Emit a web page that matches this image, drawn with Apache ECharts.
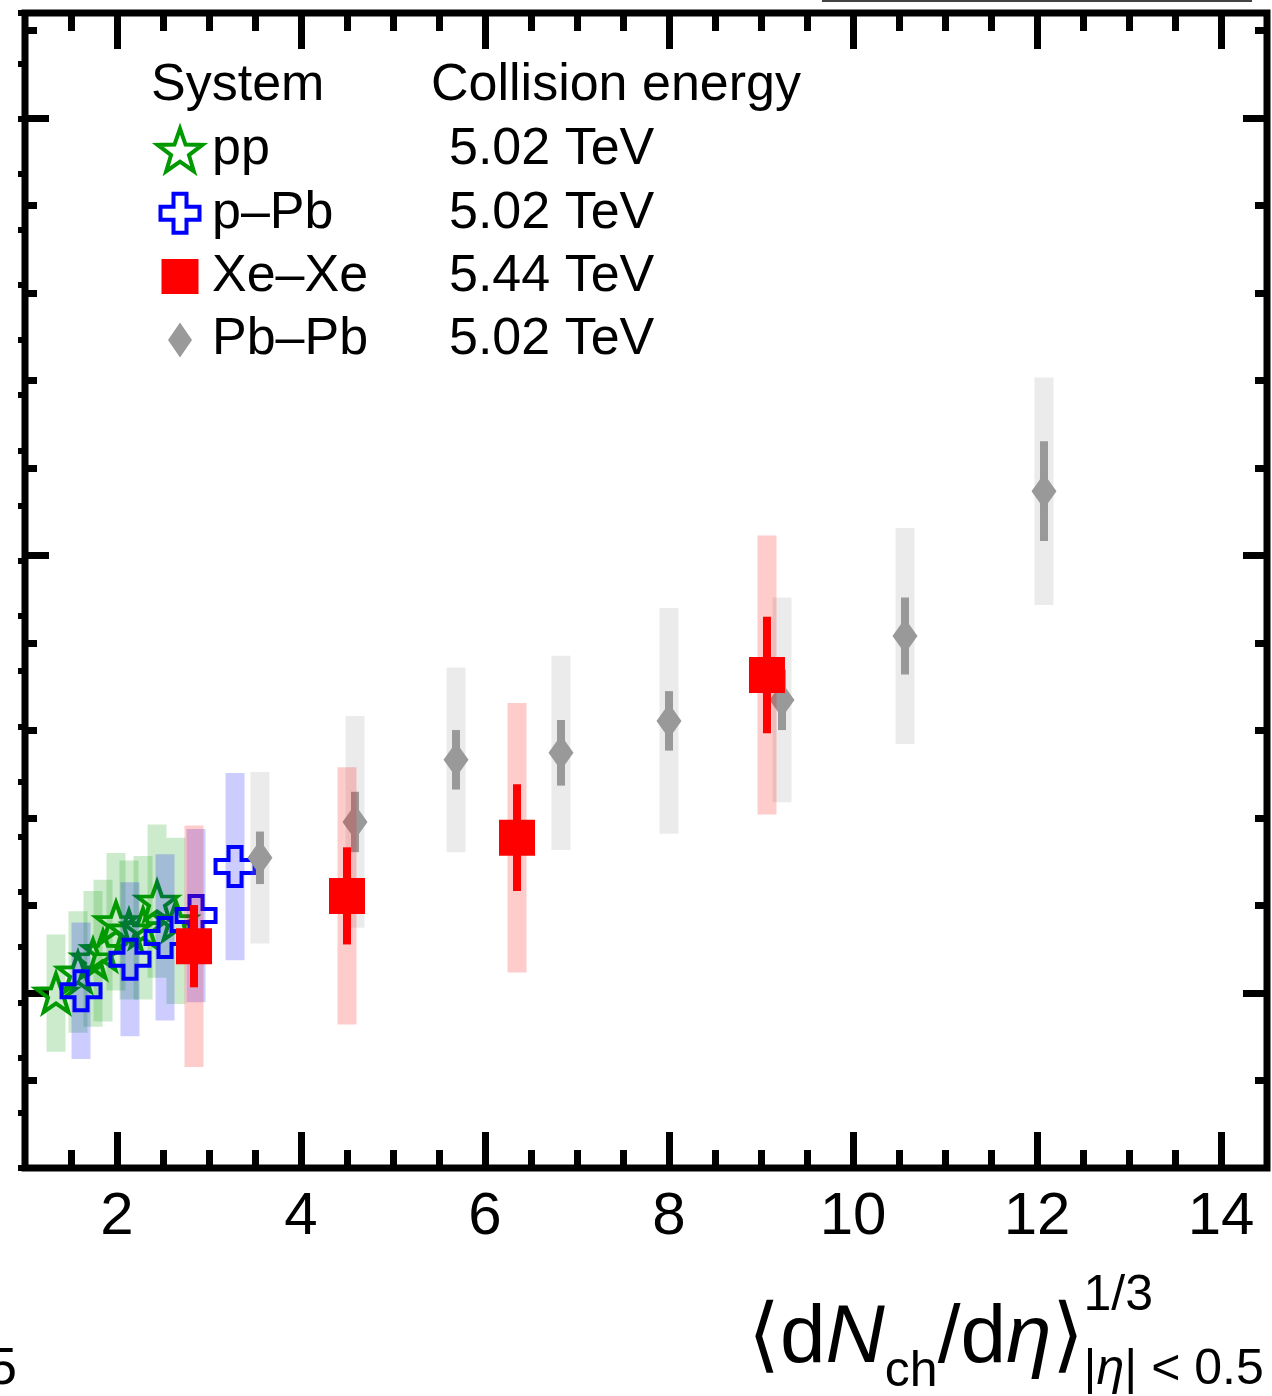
<!DOCTYPE html>
<html><head><meta charset="utf-8">
<script src="https://cdn.jsdelivr.net/npm/echarts@6/dist/echarts.min.js"></script>
<style>html,body{margin:0;padding:0;background:#fff}#c{width:1272px;height:1396px}</style>
</head><body><div id="c"></div>
<script>
// ---------------- data ----------------
const xMin = 1, xMax = 14.5;
const yMin = 0.6, yMax = 3.24;
const xMajorTicks = [2, 4, 6, 8, 10, 12, 14];
const xMinorTicks = [1.5, 2.5, 3, 3.5, 4.5, 5, 5.5, 6.5, 7, 7.5, 8.5, 9, 9.5, 10.5, 11, 11.5, 12.5, 13, 13.5];
const xTickLabels = [2, 4, 6, 8, 10, 12, 14];
const yMajorTicks = [1, 2, 3];
const yMinorTicks = [0.8, 1.2, 1.4, 1.6, 1.8, 2.2, 2.4, 2.6, 2.8, 3.2];

const ppX   = [1.337, 1.576, 1.739, 1.848, 1.989, 2.130, 2.283, 2.435, 2.641];
const ppY   = [1.000, 1.048, 1.078, 1.097, 1.163, 1.144, 1.149, 1.210, 1.165];
const ppSys = [0.134, 0.139, 0.155, 0.162, 0.157, 0.159, 0.164, 0.175, 0.190];

const pPbX   = [1.609, 2.141, 2.522, 2.859, 3.283];
const pPbY   = [1.005, 1.077, 1.127, 1.177, 1.289];
const pPbSys = [0.156, 0.176, 0.190, 0.198, 0.214];

const xeX    = [2.837, 4.500, 6.348, 9.065];
const xeY    = [1.107, 1.222, 1.355, 1.727];
const xeStat = [0.094, 0.111, 0.122, 0.133];
const xeSys  = [0.276, 0.294, 0.308, 0.319];

const pbX    = [3.554, 4.587, 5.685, 6.826, 8.000, 9.228, 10.565, 12.076];
const pbY    = [1.309, 1.391, 1.533, 1.549, 1.622, 1.670, 1.816, 2.147];
const pbStat = [0.060, 0.069, 0.068, 0.075, 0.068, 0.069, 0.088, 0.114];
const pbSys  = [0.196, 0.242, 0.211, 0.222, 0.258, 0.234, 0.247, 0.260];

const legendNames    = ['pp', 'p\u2013Pb', 'Xe\u2013Xe', 'Pb\u2013Pb'];
const legendEnergies = ['5.02 TeV', '5.02 TeV', '5.44 TeV', '5.02 TeV'];
const legendHeader   = ['System', 'Collision energy'];

// ---------------- styles ----------------
const FONT = '"Liberation Sans", Arial, Helvetica, sans-serif';
const GREEN = '#009900', BLUE = '#0000ff', RED = '#ff0000', GRAY = '#999999';

function starPts(cx, cy, R, r) {
  const pts = [];
  for (let k = 0; k < 10; k++) {
    const a = (-90 + k * 36) * Math.PI / 180;
    const rad = k % 2 === 0 ? R : r;
    pts.push([cx + rad * Math.cos(a), cy + rad * Math.sin(a)]);
  }
  return pts;
}
function polyPath(pts) {
  return 'M' + pts.map(p => p[0].toFixed(2) + ' ' + p[1].toFixed(2)).join(' L') + ' Z';
}
const starSymbol = 'path://' + polyPath(starPts(50, 50, 50, 20));
const crossSymbol = 'path://M33.33 0 H66.67 V33.33 H100 V66.67 H66.67 V100 H33.33 V66.67 H0 V33.33 H33.33 Z';
const diamondSymbol = 'path://M12 0 L24 17.5 L12 35 L0 17.5 Z';
const PAD = ' M0 0 M46 46';
const starLegend = 'path://' + polyPath(starPts(23, 25.2, 23.5, 9.4)) + PAD;
const crossLegend = 'path://M16.5 3.5 H29.5 V16.5 H42.5 V29.5 H29.5 V42.5 H16.5 V29.5 H3.5 V16.5 H16.5 Z' + PAD;
const squareLegend = 'path://M4.5 5.5 H41.5 V40.5 H4.5 Z' + PAD;
const diamondLegend = 'path://M23 5.5 L35 23 L23 40.5 L11 23 Z' + PAD;

function xAx(pos, ticks, len, labels) {
  return {
    type: 'value', position: pos, min: xMin, max: xMax, gridIndex: 0,
    axisLine: {show: false}, splitLine: {show: false},
    axisTick: {show: true, inside: true, length: len, customValues: ticks, lineStyle: {color: '#000', width: 7}},
    axisLabel: labels ? {show: true, customValues: labels, fontSize: 60, color: '#000', fontFamily: FONT, margin: 19,
      formatter: v => String(v)} : {show: false}
  };
}
function yAx(pos, ticks, len) {
  return {
    type: 'value', position: pos, min: yMin, max: yMax, gridIndex: 0,
    axisLine: {show: false}, splitLine: {show: false},
    axisTick: {show: true, inside: true, length: len, customValues: ticks, lineStyle: {color: '#000', width: 7}},
    axisLabel: {show: false}
  };
}
function boxSeries(name, xs, ys, errs, width, color, z) {
  return {
    type: 'custom', name: name, xAxisIndex: 0, yAxisIndex: 0, z: z, silent: true,
    data: xs.map((x, i) => [x, ys[i] - errs[i], ys[i] + errs[i]]),
    encode: {x: 0, y: [1, 2]},
    renderItem: (params, api) => {
      const top = api.coord([api.value(0), api.value(2)]);
      const bot = api.coord([api.value(0), api.value(1)]);
      return {type: 'rect', shape: {x: top[0] - width / 2, y: top[1], width: width, height: bot[1] - top[1]},
        style: {fill: color}};
    }
  };
}
function scatterSeries(name, xs, ys, symbol, size, itemStyle, z) {
  return {
    type: 'scatter', name: name, xAxisIndex: 0, yAxisIndex: 0, z: z, silent: true,
    data: xs.map((x, i) => [x, ys[i]]), symbol: symbol, symbolSize: size,
    itemStyle: itemStyle, emphasis: {disabled: true}
  };
}

// ---------------- title pieces ----------------
const mctx = document.createElement('canvas').getContext('2d');
function tw(text, font) { mctx.font = font; return mctx.measureText(text).width; }
const F_MAIN = '82px ' + FONT, F_MAIN_I = 'italic 82px ' + FONT;
const F_SUB = '50px ' + FONT, F_SUB2 = '50px ' + FONT, F_SUB2_I = 'italic 50px ' + FONT;
const titleEls = [];
let cx = 748;
const yMain = 1339, ySub = 1372, ySup = 1296, ySub2 = 1370;
function piece(text, font, y) {
  titleEls.push({type: 'text', x: cx, y: y, style: {text: text, font: font, fill: '#000', align: 'left', verticalAlign: 'middle'}, silent: true});
  cx += tw(text, font);
}
piece('\u27E8d', F_MAIN, yMain);
piece('N', F_MAIN_I, yMain);
piece('ch', F_SUB, ySub);
piece('/d', F_MAIN, yMain);
piece('\u03B7', F_MAIN_I, yMain);
piece('\u27E9', F_MAIN, yMain);
const supX = cx;
cx = supX; piece('1/3', F_SUB, ySup);
cx = supX; piece('|', F_SUB2, ySub2); piece('\u03B7', F_SUB2_I, ySub2); piece('| < 0.5', F_SUB2, ySub2);

const graphics = titleEls.concat([
  {type: 'text', x: 151, y: 86, style: {text: legendHeader[0], font: '52px ' + FONT, fill: '#000', verticalAlign: 'middle'}, silent: true},
  {type: 'text', x: 431, y: 86, style: {text: legendHeader[1], font: '52px ' + FONT, fill: '#000', verticalAlign: 'middle'}, silent: true},
  {type: 'text', x: 17, y: 1370, style: {text: '5', font: '52px ' + FONT, fill: '#000', align: 'right', verticalAlign: 'middle'}, silent: true},
  {type: 'rect', shape: {x: 822, y: 0, width: 430, height: 2}, style: {fill: '#444'}, silent: true}
]);

const legendIcons = [starLegend, crossLegend, squareLegend, diamondLegend];
const legendStyles = [
  {color: 'rgba(0,0,0,0)', borderColor: GREEN, borderWidth: 4},
  {color: 'rgba(0,0,0,0)', borderColor: BLUE, borderWidth: 4},
  {color: RED, borderWidth: 0},
  {color: GRAY, borderWidth: 0}
];

const option = {
  animation: false,
  backgroundColor: '#fff',
  grid: {left: 25, right: 5, top: 13, bottom: 228, show: true, borderWidth: 7, borderColor: '#000', backgroundColor: 'transparent'},
  xAxis: [
    xAx('bottom', xMajorTicks, 36, xTickLabels),
    xAx('bottom', xMinorTicks, 18, null),
    xAx('top', xMajorTicks, 36, null),
    xAx('top', xMinorTicks, 18, null)
  ],
  yAxis: [
    yAx('left', yMajorTicks, 24),
    yAx('left', yMinorTicks, 12),
    yAx('right', yMajorTicks, 24),
    yAx('right', yMinorTicks, 12),
    {type: 'value', position: 'left', min: 0, max: 20.92, interval: 1, gridIndex: 0,
      axisLine: {show: false}, splitLine: {show: false}, axisLabel: {show: false},
      axisTick: {show: true, inside: false, length: 7, lineStyle: {color: '#000', width: 6}}}
  ],
  legend: {
    orient: 'vertical', left: 155, top: 124, padding: 0, itemGap: 11.3,
    itemWidth: 46, itemHeight: 46, selectedMode: false, symbolKeepAspect: true,
    textStyle: {fontSize: 52, fontFamily: FONT, color: '#000', lineHeight: 52,
      rich: {n: {fontSize: 52, fontFamily: FONT, color: '#000', width: 237, padding: [0, 0, 0, 4], lineHeight: 52},
             e: {fontSize: 52, fontFamily: FONT, color: '#000', lineHeight: 52}}},
    formatter: name => '{n|' + name + '}{e|' + legendEnergies[legendNames.indexOf(name)] + '}',
    data: legendNames.map((n, i) => ({name: n, icon: legendIcons[i], itemStyle: legendStyles[i]}))
  },
  graphic: graphics,
  series: [
    boxSeries('pp sys', ppX, ppY, ppSys, 19, 'rgba(0,153,0,0.2)', 2),
    scatterSeries('pp', ppX, ppY, starSymbol, [40, 38], {color: 'rgba(0,0,0,0)', borderColor: GREEN, borderWidth: 4, opacity: 1}, 3),
    boxSeries('p\u2013Pb sys', pPbX, pPbY, pPbSys, 19, 'rgba(0,0,255,0.2)', 4),
    scatterSeries('p\u2013Pb', pPbX, pPbY, crossSymbol, 39, {color: 'rgba(0,0,0,0)', borderColor: BLUE, borderWidth: 4, opacity: 1}, 5),
    boxSeries('Pb\u2013Pb sys', pbX, pbY, pbSys, 19, 'rgba(153,153,153,0.2)', 6),
    boxSeries('Pb\u2013Pb stat', pbX, pbY, pbStat, 8, GRAY, 7),
    scatterSeries('Pb\u2013Pb', pbX, pbY, diamondSymbol, [25, 35], {color: GRAY, opacity: 1}, 8),
    boxSeries('Xe\u2013Xe sys', xeX, xeY, xeSys, 19, 'rgba(255,0,0,0.2)', 9),
    boxSeries('Xe\u2013Xe stat', xeX, xeY, xeStat, 8, RED, 10),
    scatterSeries('Xe\u2013Xe', xeX, xeY, 'rect', 36, {color: RED, opacity: 1}, 11)
  ]
};
const chart = echarts.init(document.getElementById('c'), null, {renderer: 'canvas'});
chart.setOption(option);
</script></body></html>
